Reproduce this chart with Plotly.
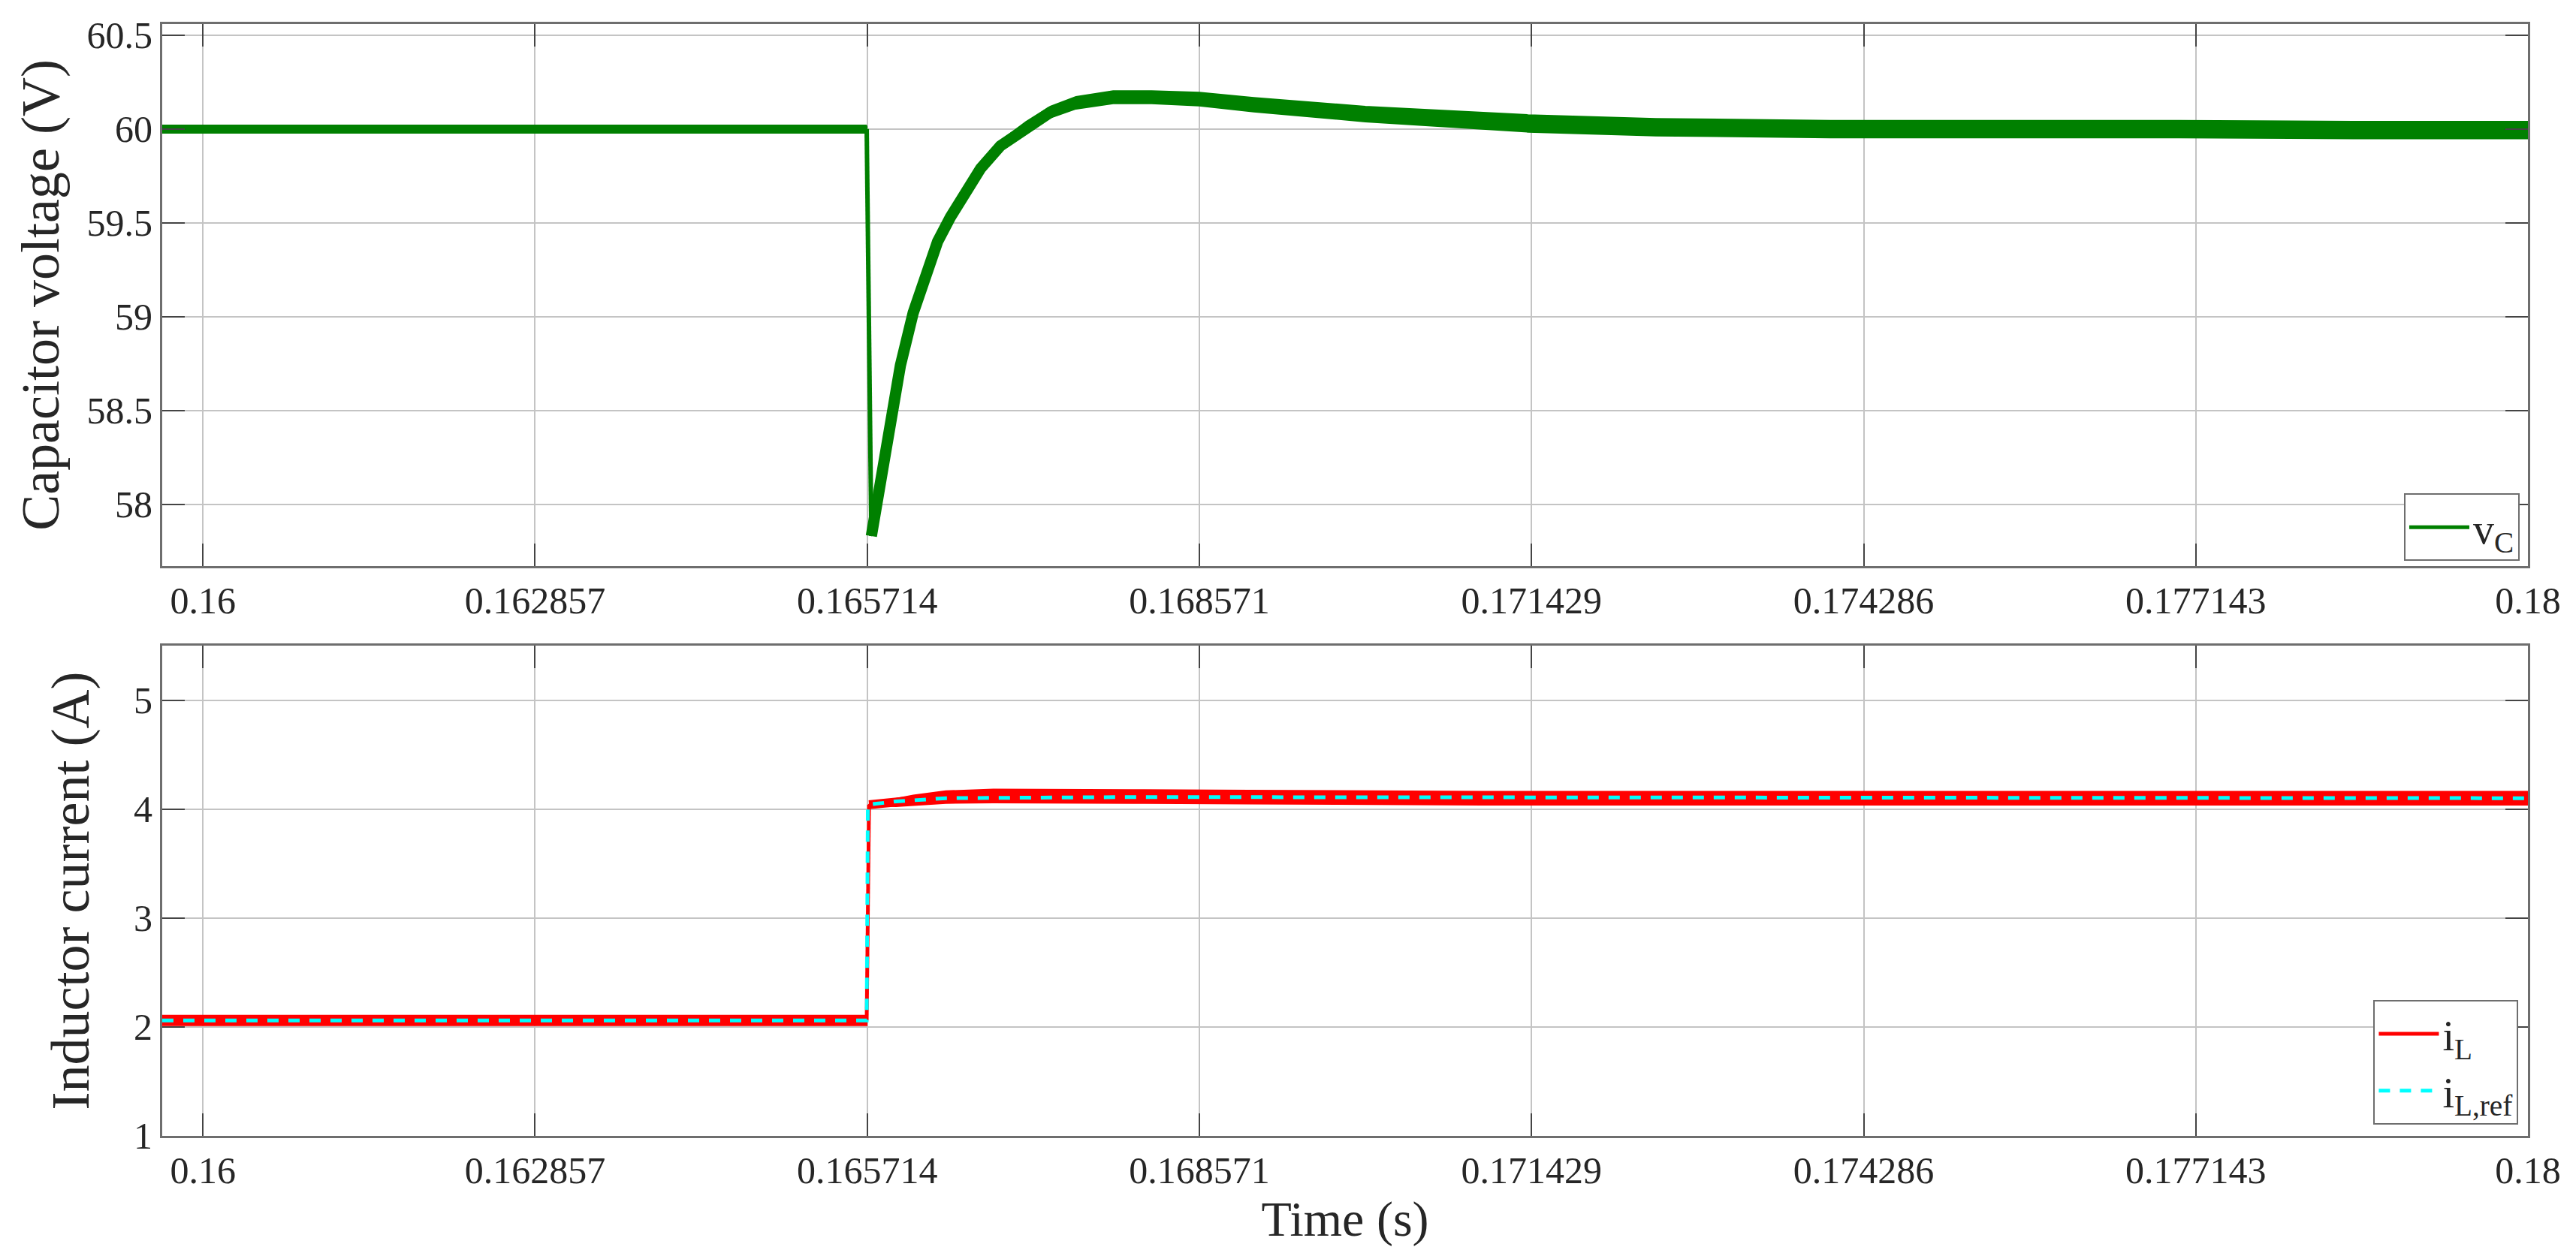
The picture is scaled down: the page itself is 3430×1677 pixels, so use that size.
import plotly.graph_objects as go

FONT = "Liberation Serif, Times New Roman, serif"
GREEN = "#008000"
RED = "#ff0000"
CYAN = "#00ffff"
GRID = "#c4c4c4"
BOX = "#6e6e6e"
TXT = "#262626"

# time axis ticks (s)
time_ticks = ["0.16", "0.162857", "0.165714", "0.168571", "0.171429",
              "0.174286", "0.177143", "0.18"]

# capacitor voltage: centre of the ripple band and half band width (V)
t_vc = [0.15965, 0.1610, 0.1625, 0.1640, 0.1650, 0.16571, 0.16575, 0.16584,
        0.16591, 0.16600, 0.16611, 0.16622, 0.16632, 0.16643, 0.16654,
        0.16669, 0.16686, 0.16708, 0.16729, 0.16751, 0.16783, 0.16816,
        0.16857, 0.16904, 0.1700, 0.1714, 0.1725, 0.1740, 0.1755, 0.1770,
        0.1785, 0.1800]
vc_mid = [60.00, 60.00, 59.995, 60.00, 60.00, 60.00, 57.83, 58.18, 58.46,
          58.74, 59.02, 59.24, 59.40, 59.53, 59.65, 59.79, 59.91, 60.01,
          60.09, 60.14, 60.17, 60.17, 60.16, 60.13, 60.08, 60.03, 60.01,
          60.00, 60.00, 60.00, 59.995, 59.995]
vc_half = [0.015, 0.015, 0.015, 0.015, 0.015, 0.015, 0.0, 0.005, 0.008,
           0.01, 0.012, 0.015, 0.018, 0.02, 0.022, 0.024, 0.026, 0.028,
           0.03, 0.032, 0.033, 0.033, 0.035, 0.037, 0.04, 0.045, 0.045,
           0.045, 0.045, 0.045, 0.045, 0.045]

# inductor current (A)
t_il = [0.15965, 0.1620, 0.1640, 0.16571, 0.16573, 0.16596, 0.16611,
        0.16639, 0.16680, 0.16720, 0.1680, 0.1690, 0.1710, 0.1750, 0.1800]
il_mid = [2.06, 2.06, 2.06, 2.06, 4.04, 4.06, 4.08, 4.11, 4.12, 4.12, 4.115,
          4.11, 4.10, 4.10, 4.10]
il_half = [0.045, 0.045, 0.045, 0.045, 0.0, 0.035, 0.045, 0.055, 0.06, 0.06,
           0.06, 0.06, 0.06, 0.06, 0.06]

# inductor current reference (A)
t_ref = [0.15965, 0.16571, 0.16572, 0.16596, 0.16639, 0.1680, 0.1800]
il_ref = [2.06, 2.06, 4.04, 4.07, 4.10, 4.11, 4.10]

vc_ticks = [58, 58.5, 59, 59.5, 60, 60.5]
il_ticks = [1, 2, 3, 4, 5]


def line(fig, t, y, color, width, xa, ya, **kw):
    fig.add_trace(go.Scatter(x=t, y=y, mode="lines", xaxis=xa, yaxis=ya,
                             line=dict(color=color, width=width),
                             showlegend=False, hoverinfo="skip", **kw))


def band(fig, t, mid, half, color, xa, ya, step, core):
    """ripple band: filled envelope, plus a core line that is thin on the
    switching edge (points step..step+1) and thick elsewhere"""
    hi = [m + h for m, h in zip(mid, half)]
    lo = [m - h for m, h in zip(mid, half)]
    line(fig, t, hi, color, 2, xa, ya)
    line(fig, t, lo, color, 2, xa, ya, fill="tonexty", fillcolor=color)
    line(fig, t[:step + 1], mid[:step + 1], color, core[0], xa, ya)
    line(fig, t[step:step + 2], mid[step:step + 2], color, core[1], xa, ya)
    line(fig, t[step + 1:], mid[step + 1:], color, core[2], xa, ya)


fig = go.Figure()

band(fig, t_vc, vc_mid, vc_half, GREEN, "x", "y", 5, (12, 6, 15))
fig.add_trace(go.Scatter(x=[None], y=[None], mode="lines", xaxis="x",
                         yaxis="y", line=dict(color=GREEN, width=5),
                         name="v<sub>C</sub>", legend="legend"))

band(fig, t_il, il_mid, il_half, RED, "x2", "y2", 3, (12, 5, 12))
fig.add_trace(go.Scatter(x=[None], y=[None], mode="lines", xaxis="x2",
                         yaxis="y2", line=dict(color=RED, width=5),
                         name="i<sub>L</sub>", legend="legend2"))
fig.add_trace(go.Scatter(x=t_ref, y=il_ref, mode="lines", xaxis="x2", yaxis="y2",
                         line=dict(color=CYAN, width=5, dash="15px,13px"),
                         name="i<sub>L,ref</sub>", legend="legend2"))

tick_font = dict(family=FONT, size=50, color=TXT)
title_font = dict(family=FONT, size=72, color=TXT)

common = dict(
    showgrid=True, gridcolor=GRID, gridwidth=2, zeroline=False,
    showline=True, linecolor=BOX, linewidth=3, mirror="ticks",
    ticks="inside", ticklen=30, tickwidth=2, tickcolor="#444444",
    tickfont=tick_font,
)
xcommon = dict(common, range=[0.15965, 0.18],
               tickvals=[float(s) for s in time_ticks], ticktext=time_ticks)

legend_style = dict(bgcolor="white", bordercolor=BOX, borderwidth=2,
                    font=dict(family=FONT, size=56, color=TXT),
                    itemwidth=80,
                    xanchor="right", yanchor="bottom", xref="paper",
                    yref="paper")

fig.update_layout(
    width=3430, height=1677,
    margin=dict(l=208, r=72, t=24, b=172),
    paper_bgcolor="white", plot_bgcolor="white",
    font=dict(family=FONT, color=TXT),
    xaxis=dict(xcommon, anchor="y", domain=[0, 1]),
    yaxis=dict(common, anchor="x", domain=[0.5125, 1], range=[57.67, 60.56],
               tickvals=vc_ticks, ticktext=[f"{v:g}" for v in vc_ticks],
               title=dict(text="Capacitor voltage (V)", font=title_font,
                          standoff=14)),
    xaxis2=dict(xcommon, anchor="y2", domain=[0, 1],
                title=dict(text="Time (s)", font=dict(title_font, size=66),
                           standoff=12)),
    yaxis2=dict(common, anchor="x2", domain=[0, 0.4409], range=[1, 5.5],
                tickvals=il_ticks, ticktext=[str(v) for v in il_ticks],
                title=dict(text="Inductor current (A)", font=title_font,
                           standoff=36)),
    legend=dict(legend_style, x=0.9965, y=0.517),
    legend2=dict(legend_style, x=0.996, y=0.0101),
    hovermode=False,
)

fig.write_html("out.html")
